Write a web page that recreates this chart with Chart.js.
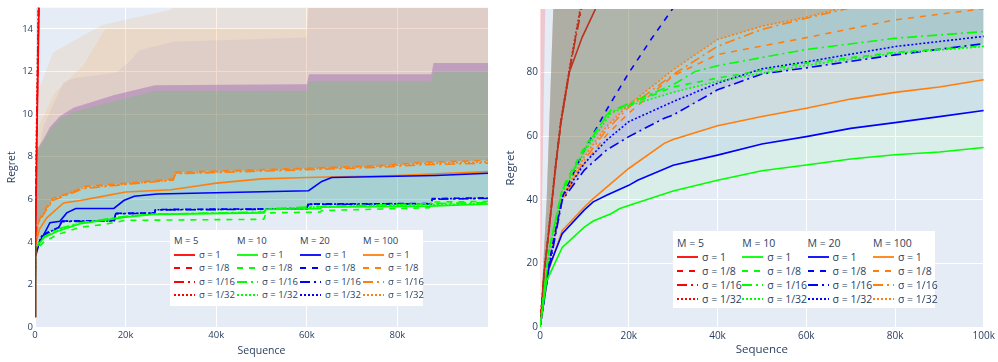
<!DOCTYPE html>
<html>
<head>
<meta charset="utf-8">
<script src="https://cdn.jsdelivr.net/npm/chart.js@4.4.1/dist/chart.umd.min.js"></script>
<style>
  body { margin: 0; background: #fff; font-family: "Open Sans", sans-serif; }
  #wrap { position: relative; width: 998px; height: 362px; overflow: hidden; }
  canvas { position: absolute; top: 0; }
  .legend { position: absolute; background: #fff; color: #2a3f5f; }
  .legend div { position: absolute; white-space: nowrap; line-height: 12px; }
  .legend svg { position: absolute; }
</style>
</head>
<body>
<div id="wrap">
  <canvas id="chart1" width="498" height="362" style="left:0"></canvas>
  <canvas id="chart2" width="500" height="362" style="left:498px"></canvas>
  <div class="legend" id="legend1" style="left:170px;top:230px;width:253px;height:76px"></div>
  <div class="legend" id="legend2" style="left:673px;top:231px;width:262px;height:77px"></div>
</div>
<script>
const groupLabels = ['M = 5', 'M = 10', 'M = 20', 'M = 100'];
const sigmaLabels = ['σ = 1', 'σ = 1/8', 'σ = 1/16', 'σ = 1/32'];
const colors = ['#ff0000', '#00ff00', '#0000ff', '#ff7f0e'];
const dashes = [[], [6, 6], [10, 4, 2, 4], [2, 2]];

const leftXTicks = [0, 20000, 40000, 60000, 80000];
const leftYTicks = [0, 2, 4, 6, 8, 10, 12, 14];
const rightXTicks = [0, 20000, 40000, 60000, 80000, 100000];
const rightYTicks = [0, 20, 40, 60, 80];

// left panel: [sequence, regret], one list per sigma (1, 1/8, 1/16, 1/32)
const leftM5 = [
  [[0,0.5],[100,4],[400,8.5],[900,15.2],[2000,26]],
  [[0,0.5],[100,4.5],[350,9],[800,15.5],[2000,28]],
  [[0,0.5],[100,4.3],[380,8.8],[850,15.4],[2000,27]],
  [[0,0.5],[100,4.6],[330,9.2],[780,15.6],[2000,29]]
];
const leftM10 = [
  [[0,0.5],[100,3.7],[2000,4.2],[5000,4.5],[10000,4.85],[20000,5.16],[26000,5.29],[50500,5.36],[51000,5.52],[63000,5.56],[63300,5.63],[87000,5.68],[100000,5.78]],
  [[0,0.5],[100,3.6],[2000,4.0],[5000,4.34],[10000,4.69],[15000,4.81],[20000,5.01],[50500,5.06],[51000,5.36],[63000,5.4],[63300,5.47],[87000,5.6],[88000,5.87],[100000,5.9]],
  [[0,0.5],[100,3.75],[2000,4.25],[5000,4.6],[10000,4.9],[20000,5.2],[26000,5.3],[50500,5.4],[51000,5.55],[63300,5.66],[88000,5.8],[100000,5.85]],
  [[0,0.5],[100,3.7],[2000,4.2],[5000,4.55],[10000,4.88],[20000,5.18],[26000,5.3],[50500,5.38],[51000,5.54],[63300,5.65],[88000,5.75],[100000,5.8]]
];
const leftM20 = [
  [[0,0.5],[100,3.3],[1000,4.0],[2000,4.36],[3300,4.9],[5500,4.97],[7000,5.36],[9000,5.57],[17400,5.57],[19600,5.94],[21900,6.14],[27000,6.25],[60400,6.4],[63300,6.84],[65500,7.02],[88500,7.12],[100000,7.22]],
  [[0,0.5],[100,3.5],[1500,4.3],[3300,4.5],[5200,4.67],[5900,4.98],[17500,5.0],[17800,5.34],[26400,5.36],[26600,5.52],[60000,5.56],[60300,5.78],[87500,5.8],[87700,6.03],[100000,6.07]],
  [[0,0.5],[100,3.45],[1500,4.25],[3300,4.45],[5200,4.64],[5900,4.95],[17500,4.98],[17800,5.32],[26400,5.34],[26600,5.5],[60000,5.54],[60300,5.76],[87500,5.78],[87700,6.0],[100000,6.04]],
  [[0,0.5],[100,3.5],[1500,4.28],[3300,4.48],[5200,4.66],[5900,4.97],[17500,4.99],[17800,5.33],[26400,5.35],[26600,5.51],[60000,5.55],[60300,5.77],[87500,5.79],[87700,6.02],[100000,6.05]]
];
const leftM100 = [
  [[0,0.5],[100,3.9],[1000,4.6],[2600,5.13],[6300,5.83],[10000,5.94],[14000,6.1],[20000,6.34],[30000,6.45],[35000,6.6],[40000,6.76],[50000,6.96],[60000,7.02],[80000,7.12],[100000,7.3]],
  [[0,0.5],[100,4.3],[800,5.0],[2500,5.6],[4000,6.06],[8000,6.3],[10700,6.6],[20000,6.75],[30500,6.95],[31000,7.27],[59000,7.45],[76000,7.58],[85500,7.73],[100000,7.83]],
  [[0,0.5],[100,4.2],[800,4.9],[2500,5.5],[4000,5.95],[10700,6.5],[20000,6.7],[30500,6.9],[31000,7.2],[59000,7.38],[76000,7.5],[85500,7.62],[100000,7.7]],
  [[0,0.5],[100,4.25],[800,4.95],[2500,5.55],[4000,6.0],[10700,6.55],[20000,6.72],[30500,6.92],[31000,7.22],[59000,7.42],[76000,7.55],[85500,7.68],[100000,7.76]]
];
// left panel band tops
const leftGreenTop = [[0,4],[300,8.2],[1800,8.7],[3300,9.25],[5500,9.78],[8500,10.1],[17500,10.6],[26500,11.1],[60000,11.1],[60500,11.55],[87500,11.55],[88000,12.0],[100000,12.0]];
const leftBlueTop = [[0,4],[300,8.3],[1800,8.8],[3300,9.4],[5500,9.9],[8500,10.3],[17500,10.9],[26500,11.36],[60000,11.4],[60500,11.87],[87500,11.87],[88000,12.4],[100000,12.4]];
const leftOrangeTopA = [[0,4],[300,8],[1100,11.3],[4000,12.9],[10700,13.7],[15000,14.2],[30000,14.9],[32000,15.5],[100000,15.5]];
const leftOrangeTopB = [[0,4],[300,7.9],[1000,9.5],[4400,11.0],[10700,12.3],[15500,14.0],[60000,14.0],[60500,15.5],[100000,15.5]];
const leftFaintTop = [[0,4],[300,7.8],[2000,9.5],[6300,11.5],[8900,11.7],[18000,11.95],[21000,12.5],[23000,13.0],[30700,13.4],[60000,13.6],[60500,15.5],[100000,15.5]];

// right panel
const rightM5 = [
  [[0,0],[1000,18],[2000,30],[3500,50],[4700,64],[6600,80],[9500,91],[12600,100.2],[15000,108]],
  [[0,0],[1000,18],[2000,30],[3500,50],[4700,64],[6600,80],[9200,100.3],[11000,112]],
  [[0,0],[1000,18],[2000,30.5],[3500,50.5],[4700,64.5],[6600,80.5],[9400,100.3],[11000,111]],
  [[0,0],[1000,18.5],[2000,31],[3500,51],[4700,65],[6600,81],[9100,100.3],[11000,112]]
];
const rightM10 = [
  [[0,0],[1500,14.5],[5000,25],[10000,31.4],[12000,33.3],[16000,35.6],[18000,37.2],[20000,38.2],[30000,42.7],[40000,46.1],[50000,49.1],[60000,50.9],[70000,52.8],[80000,54.1],[90000,55],[100000,56.4]],
  [[0,0],[2000,24],[5000,43.5],[10000,56.6],[16000,68.2],[20000,69.8],[30000,75.4],[40000,78.2],[60000,82.9],[80000,86.3],[100000,88.3]],
  [[0,0],[2000,24],[5000,42.9],[10000,55.6],[15000,66.6],[20000,70.3],[30000,76.1],[35000,80.3],[40000,82.1],[60000,87.2],[80000,90.7],[100000,92.8]],
  [[0,0],[2000,23],[5000,42.4],[10000,55],[16000,67.2],[20000,69.5],[30000,73.7],[40000,77.2],[60000,82.2],[80000,86],[100000,88.1]]
];
const rightM20 = [
  [[0,0],[2000,18.7],[5000,29.3],[10000,36.8],[12000,39.3],[15000,41.4],[20000,44.5],[22000,46.1],[30000,50.8],[40000,54],[50000,57.5],[60000,59.8],[70000,62.4],[80000,64.2],[90000,66.1],[100000,68]],
  [[0,0],[2000,20],[5000,40.8],[10000,55.6],[15000,68.2],[20000,79.8],[25000,90.3],[30000,100.2],[35000,108]],
  [[0,0],[2000,18],[5000,39.8],[10000,49.3],[15000,55.6],[20000,59.8],[28000,65.6],[30000,66.6],[40000,74.5],[50000,79.5],[60000,81.4],[80000,85.5],[100000,89]],
  [[0,0],[2000,19],[5000,40.8],[10000,51.4],[15000,58.7],[20000,64.5],[30000,70.8],[40000,76.6],[50000,81.1],[60000,83.3],[80000,88.1],[100000,91.3]]
];
const rightM100 = [
  [[0,0],[2000,18],[5000,30.3],[10000,37.7],[12000,40.3],[20000,49.8],[28000,57.7],[30000,58.9],[40000,63.2],[50000,66.1],[60000,68.7],[70000,71.6],[80000,73.7],[90000,75.4],[100000,77.7]],
  [[0,0],[2000,19],[5000,39.8],[10000,51.4],[15000,60.3],[20000,67.2],[30000,78.9],[40000,85.6],[60000,90.9],[80000,96.5],[100000,100]],
  [[0,0],[2000,19],[5000,40],[10000,52.5],[15000,62],[20000,69],[30000,79.3],[40000,88.2],[50000,93.5],[60000,97],[70000,100.3],[80000,103]],
  [[0,0],[2000,19.5],[5000,40.8],[10000,53.5],[15000,63],[20000,69.8],[30000,80.8],[40000,90.3],[50000,94.5],[60000,97.3],[68000,100.2],[80000,103]]
];
const rightRedEdge = [[0,0],[300,25],[700,60],[1200,100.5],[1500,130]];
const rightEnvelope = [[0,0],[1500,40],[3000,100.5],[4000,150],[100000,150]];

const plotBg = {
  id: 'plotBg',
  beforeDraw(chart) {
    const { ctx, chartArea: a } = chart;
    ctx.save();
    ctx.fillStyle = '#e5ecf6';
    ctx.fillRect(a.left, a.top, a.width, a.height);
    ctx.restore();
  }
};

function lines(groups, redOrder) {
  const out = [];
  groups.forEach((g, gi) => {
    g.forEach((pts, si) => {
      out.push({
        label: groupLabels[gi] + ' ' + sigmaLabels[si],
        data: pts,
        borderColor: colors[gi],
        borderDash: dashes[si],
        borderWidth: 1.6,
        pointRadius: 0,
        fill: false,
        order: gi === 0 ? redOrder : 1
      });
    });
  });
  return out;
}

function band(pts, fill, color) {
  return { data: pts, fill: fill, backgroundColor: color, borderWidth: 0, borderColor: 'rgba(0,0,0,0)', pointRadius: 0, order: 2 };
}

function axes(xMax, yMax, xTicks, yTicks, yWidth, fs, ts) {
  const tickFont = { family: '"Open Sans"', size: fs };
  const titleFont = { family: '"Open Sans"', size: ts };
  return {
    x: {
      type: 'linear', min: 0, max: xMax,
      afterFit(s) { s.height = 35; },
      afterBuildTicks(s) { s.ticks = xTicks.map(v => ({ value: v })); },
      grid: { color: '#ffffff', drawTicks: false },
      border: { display: false },
      ticks: {
        maxRotation: 0, autoSkip: false, padding: 3,
        color: '#2a3f5f', font: tickFont,
        callback: v => v === 0 ? '0' : (v / 1000) + 'k'
      },
      title: { display: true, text: 'Sequence', color: '#2a3f5f', font: titleFont, padding: { top: 0, bottom: 5 } }
    },
    y: {
      min: 0, max: yMax,
      afterFit(s) { s.width = yWidth; },
      afterBuildTicks(s) { s.ticks = yTicks.map(v => ({ value: v })); },
      grid: { color: '#ffffff', drawTicks: false },
      border: { display: false },
      ticks: { padding: 2, color: '#2a3f5f', font: tickFont, callback: v => String(v) },
      title: { display: true, text: 'Regret', color: '#2a3f5f', font: titleFont, padding: { top: 5.5, bottom: 0 } }
    }
  };
}

// left chart
const leftSets = lines([leftM5, leftM10, leftM20, leftM100], 1);
leftSets.push(band(leftGreenTop, 4, 'rgba(0,255,0,0.15)'));
leftSets.push(band(leftBlueTop, 9, 'rgba(0,0,255,0.15)'));
leftSets.push(band(leftOrangeTopA, 13, 'rgba(255,127,14,0.10)'));
leftSets.push(band(leftOrangeTopB, 13, 'rgba(255,127,14,0.10)'));
leftSets.push(band(leftBlueTop, 13, 'rgba(255,0,0,0.10)'));
leftSets.push(band(leftFaintTop, 13, 'rgba(0,0,255,0.05)'));

new Chart(document.getElementById('chart1'), {
  type: 'line',
  data: { datasets: leftSets },
  options: {
    responsive: false, animation: false,
    layout: { padding: { top: 5, right: 10, left: 0, bottom: 0 } },
    plugins: { legend: { display: false }, tooltip: { enabled: false } },
    scales: axes(99999, 15, leftXTicks, leftYTicks, 35, 9.5, 10.5)
  },
  plugins: [plotBg]
});

// right chart
const rightSets = lines([rightM5, rightM10, rightM20, rightM100], 3);
rightSets.push({ data: rightEnvelope, borderWidth: 0, borderColor: 'rgba(0,0,0,0)', pointRadius: 0, fill: false, order: 2 });
const env = rightSets.length - 1;
rightSets.push(band(rightRedEdge, 'end', 'rgba(255,0,0,0.15)'));
rightSets.push(band(rightM10[0], env, 'rgba(0,255,0,0.05)'));
rightSets.push(band(rightM20[0], env, 'rgba(0,0,255,0.05)'));
rightSets.push(band(rightM100[0], env, 'rgba(255,127,14,0.05)'));
rightSets.push(band(rightM20[2], env, 'rgba(0,0,255,0.09)'));
rightSets.push(band(rightM10[3], env, 'rgba(0,255,0,0.09)'));
rightSets.push(band(rightM100[3], env, 'rgba(255,0,0,0.04)'));
rightSets.push(band(rightM100[3], env, 'rgba(255,127,14,0.17)'));
rightSets.push(band(rightM5[0], env, 'rgba(255,0,0,0.05)'));

new Chart(document.getElementById('chart2'), {
  type: 'line',
  data: { datasets: rightSets },
  options: {
    responsive: false, animation: false,
    layout: { padding: { top: 9, right: 12, left: 0, bottom: 0 } },
    plugins: { legend: { display: false }, tooltip: { enabled: false } },
    scales: axes(100000, 99.9, rightXTicks, rightYTicks, 42, 10, 11.5)
  },
  plugins: [plotBg]
});

// grouped legends
function buildLegend(id, colW, titleY, rowY, rowStep, fs) {
  const box = document.getElementById(id);
  box.style.fontSize = fs + 'px';
  groupLabels.forEach((g, gi) => {
    const x = 4 + gi * colW;
    const t = document.createElement('div');
    t.textContent = g;
    t.style.left = x + 'px';
    t.style.top = (titleY - 6) + 'px';
    box.appendChild(t);
    sigmaLabels.forEach((s, si) => {
      const y = rowY + si * rowStep;
      const svg = document.createElementNS('http://www.w3.org/2000/svg', 'svg');
      svg.setAttribute('width', 21);
      svg.setAttribute('height', 4);
      svg.style.left = x + 'px';
      svg.style.top = (y - 2) + 'px';
      const ln = document.createElementNS('http://www.w3.org/2000/svg', 'line');
      ln.setAttribute('x1', 0); ln.setAttribute('x2', 21);
      ln.setAttribute('y1', 2); ln.setAttribute('y2', 2);
      ln.setAttribute('stroke', colors[gi]);
      ln.setAttribute('stroke-width', 1.8);
      if (dashes[si].length) ln.setAttribute('stroke-dasharray', dashes[si].join(','));
      svg.appendChild(ln);
      box.appendChild(svg);
      const lbl = document.createElement('div');
      lbl.textContent = s;
      lbl.style.left = (x + 25) + 'px';
      lbl.style.top = (y - 6) + 'px';
      box.appendChild(lbl);
    });
  });
}
buildLegend('legend1', 63, 11, 24.5, 13.5, 9.5);
buildLegend('legend2', 65.3, 12, 25.7, 14, 10.5);
</script>
</body>
</html>
